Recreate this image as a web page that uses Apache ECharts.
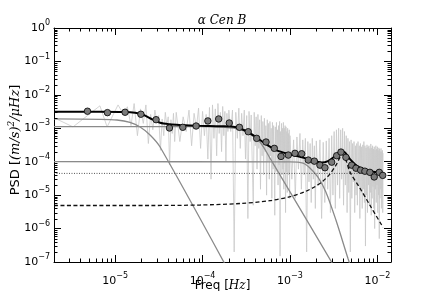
<!DOCTYPE html>
<html><head><meta charset="utf-8">
<script src="https://cdn.jsdelivr.net/npm/echarts@6/dist/echarts.min.js"></script>
<style>html,body{margin:0;padding:0;background:#fff}#c{width:436px;height:291px}</style>
</head><body><div id="c"></div>
<script>
// axis ranges
const X_MIN = 2.0e-6, X_MAX = 1.43e-2, Y_MIN = 1e-7, Y_MAX = 1;
const xTickExps = [-5, -4, -3, -2];
const yTickExps = [-7, -6, -5, -4, -3, -2, -1, 0];
const minorMultipliers = [2, 3, 4, 5, 6, 7, 8, 9];

// raw power spectrum: [frequency in microHz, PSD]
const noise = [
[2.05,2.0e-3],[3.3,1.1e-3],[6.7,4.7e-3],[8.1,1.1e-3],[10.8,5.0e-3],[12.5,2.6e-3],[13.8,4.4e-3],[15.2,1.2e-3],[16.5,5.5e-3],[18,6.0e-4],
[19.5,3.8e-3],[21,1.4e-3],[22.5,5.0e-3],[24,3.5e-4],[25.5,2.6e-3],[27,9.0e-4],[28.5,3.5e-3],[30,1.6e-3],[31.5,2.4e-3],[33,2.2e-4],
[34.5,1.9e-3],[36,6.0e-4],[37.5,3.0e-3],[39,1.2e-3],[40.5,2.2e-3],[42,8.0e-5],[43.5,1.8e-3],[45,7.0e-4],[46.5,2.8e-3],[48,4.0e-4],
[50,3.0e-3],[55,4e-4],[60,2.2e-3],[65,8e-4],[70,3.5e-3],[75,3e-4],[80,2.8e-3],[85,1.0e-3],[90,4.0e-3],[95,2.5e-4],
[100,3.2e-3],[105,6e-4],[110,2.6e-3],[115,1.2e-4],[120,4.2e-3],[125,3e-5],[130,5.0e-3],[135,5e-4],[140,3.8e-3],[145,1.5e-4],
[150,5.5e-3],[155,7e-4],[160,3.0e-3],[165,2e-4],[170,4.5e-3],[175,6e-4],[180,3.2e-3],[185,1.0e-4],[190,2.8e-3],[195,8e-4],
[200,3.5e-3],[210,8e-4],[220,3.5e-3],[230,2e-7],[240,3.0e-3],[250,5e-4],[260,4.0e-3],[270,2.5e-4],[280,2.8e-3],[290,6e-4],
[300,3.5e-3],[310,1.2e-4],[320,2.4e-3],[330,2e-6],[340,3.2e-3],[350,4e-4],[360,2.5e-3],[370,1.0e-4],[380,5e-6],[390,3.0e-3],
[400,3e-4],[410,2.2e-3],[420,6e-5],[430,2.6e-3],[440,2.5e-4],[450,1.8e-3],[460,1.5e-5],[470,2.4e-3],[480,1.5e-4],[490,1.6e-3],
[500,4e-5],[510,2.0e-3],[520,2e-4],[530,1.2e-3],[540,1e-5],[550,1.8e-3],[560,1e-4],[570,1.4e-3],[580,3e-5],[590,1.6e-3],
[600,1.5e-4],[610,1.0e-3],[620,8e-6],[630,1.5e-3],[640,6e-5],[650,1.2e-3],[660,1.2e-4],[670,2.5e-6],[680,1.1e-3],[690,5e-5],
[700,1.5e-3],[710,1.5e-4],[720,9e-4],[730,2e-5],[740,1.2e-3],[750,8e-5],[760,1.6e-3],[770,1.5e-7],[780,8e-4],[790,1.2e-4],
[800,1.4e-3],[810,4e-5],[820,1.0e-3],[830,6e-5],[840,1.5e-3],[850,1.5e-5],[860,1.0e-3],[870,9e-5],[880,1.2e-3],[890,3e-6],
[900,1.1e-3],[910,5e-5],[920,8e-4],[930,1.2e-5],[940,1.0e-3],[950,1e-4],[960,7e-4],[970,4e-5],[980,9e-4],[990,8e-6],
[1000,6e-4],[1050,3e-5],[1100,4.5e-4],[1150,8e-6],[1200,5.5e-4],[1250,6e-5],[1300,7e-4],[1350,1.5e-5],[1400,4.5e-4],[1450,4e-5],
[1500,5e-4],[1550,2e-7],[1600,4e-4],[1650,2.5e-5],[1700,3.5e-4],[1750,6e-6],[1800,5e-4],[1850,3e-5],[1900,3e-4],[1950,4e-6],
[2000,4.2e-4],[2100,2e-5],[2200,4.5e-4],[2300,2e-6],[2400,3.8e-4],[2500,6e-6],[2600,4.2e-4],[2700,1.5e-5],[2800,5e-4],[2900,3e-6],
[3000,6e-4],[3100,1e-5],[3200,8e-4],[3300,4e-6],[3400,9e-4],[3500,2e-5],[3600,1.0e-3],[3700,8e-6],[3800,9e-4],[3900,3e-5],
[4000,1.0e-3],[4100,5e-6],[4200,8e-4],[4300,2e-5],[4400,6e-4],[4500,3e-6],[4600,5e-4],[4700,1.2e-5],[4800,4e-4],[4900,2e-7],
[5000,4.5e-4],[5100,8e-6],[5200,3.5e-4],[5300,2.5e-5],[5400,4e-4],[5500,3e-6],[5600,3e-4],[5700,1e-5],[5800,3.5e-4],[5900,5e-6],
[6000,4e-4],[6100,2e-5],[6200,3e-4],[6300,2e-6],[6400,3.5e-4],[6500,1.2e-5],[6600,2.8e-4],[6700,4e-6],[6800,3.2e-4],[6900,1.5e-5],
[7000,4e-4],[7100,6e-6],[7200,3e-4],[7300,3e-7],[7400,2.6e-4],[7500,1e-5],[7600,3.2e-4],[7700,3e-6],[7800,2.8e-4],[7900,2e-5],
[8000,3e-4],[8100,5e-6],[8200,2.5e-4],[8300,1.2e-5],[8400,3.4e-4],[8500,2.5e-6],[8600,2.6e-4],[8700,8e-6],[8800,3e-4],[8900,1.8e-5],
[9000,2.4e-4],[9100,4e-6],[9200,2.8e-4],[9300,1e-6],[9400,2.2e-4],[9500,1.5e-5],[9600,3e-4],[9700,6e-6],[9800,2.4e-4],[9900,2e-5],
[10000,2.8e-4],[10100,3e-6],[10200,2.2e-4],[10300,1e-5],[10400,2.6e-4],[10500,5e-7],[10600,2.4e-4],[10700,8e-6],[10800,2e-4],[10900,1.5e-5],
[11000,2.5e-4],[11100,4e-6],[11200,2e-4],[11300,1.2e-5],[11400,2.2e-4],[11500,3e-6],[11600,1.8e-4]
];

// binned spectrum (circles)
const binF = [4.83e-6,8.17e-6,1.30e-5,1.97e-5,2.94e-5,4.18e-5,5.94e-5,8.44e-5,1.15e-4,1.53e-4,2.02e-4,2.64e-4,3.33e-4,4.16e-4,5.32e-4,6.62e-4,7.89e-4,9.57e-4,1.14e-3,1.36e-3,1.62e-3,1.90e-3,2.20e-3,2.51e-3,3.00e-3,3.42e-3,3.83e-3,4.36e-3,5.07e-3,5.68e-3,6.43e-3,7.19e-3,8.20e-3,9.19e-3,1.05e-2,1.15e-2];
const binP = [3.24e-3,2.94e-3,3.02e-3,2.63e-3,1.81e-3,1.02e-3,1.07e-3,1.17e-3,1.66e-3,1.90e-3,1.44e-3,1.07e-3,7.9e-4,5.0e-4,3.88e-4,2.51e-4,1.44e-4,1.58e-4,1.78e-4,1.73e-4,1.12e-4,1.04e-4,7.9e-5,6.6e-5,9.7e-5,1.51e-4,1.94e-4,1.35e-4,7.9e-5,6.4e-5,5.6e-5,5.2e-5,4.8e-5,3.5e-5,4.8e-5,3.9e-5];

// total fitted model (thick black)
const totF = [2.0e-6,6.74e-6,1.30e-5,1.69e-5,2.04e-5,2.51e-5,3.27e-5,4.25e-5,5.54e-5,9.36e-5,1.58e-4,2.35e-4,3.06e-4,3.98e-4,5.18e-4,6.74e-4,8.77e-4,1.14e-3,1.48e-3,1.93e-3,2.32e-3,2.72e-3,3.18e-3,3.54e-3,3.88e-3,4.26e-3,4.86e-3,5.98e-3,7.39e-3,9.36e-3,1.17e-2];
const totP = [3.15e-3,3.15e-3,3.08e-3,2.92e-3,2.63e-3,2.0e-3,1.47e-3,1.32e-3,1.26e-3,1.19e-3,1.15e-3,1.09e-3,8.6e-4,5.7e-4,3.5e-4,2.31e-4,1.82e-4,1.53e-4,1.28e-4,1.04e-4,9.4e-5,1.04e-4,1.38e-4,1.82e-4,2.08e-4,1.88e-4,1.2e-4,7.1e-5,5.6e-5,4.9e-5,4.6e-5];

// granulation / activity components (gray)
const h1F = [2.0e-6,6.74e-6,1.05e-5,1.48e-5,1.93e-5,2.51e-5,3.27e-5,2.06e-4];
const h1P = [1.9e-3,1.86e-3,1.77e-3,1.49e-3,1.09e-3,6.3e-4,2.75e-4,4.56e-8];
const h2F = [2.0e-6,9.36e-5,1.81e-4,2.68e-4,3.49e-4,4.54e-4,5.9e-4,3.72e-3];
const h2P = [1.12e-3,1.12e-3,1.06e-3,9.2e-4,6.7e-4,3.88e-4,1.28e-4,3.8e-8];
const h3F = [2.0e-6,1.0e-3,1.41e-3,1.70e-3,2.09e-3,2.58e-3,3.36e-3,4.6e-3,5.38e-3];
const h3P = [1.0e-4,9.9e-5,9.1e-5,6.4e-5,3.46e-5,1.23e-5,1.77e-6,1.29e-7,3.7e-8];

// white noise (dotted)
const wF = [2.0e-6, 1.17e-2];
const wP = [4.47e-5, 4.47e-5];

// p-mode hump (dashed)
const gF = [2.0e-6,2.51e-5,9.36e-5,2.68e-4,5.9e-4,1.0e-3,1.48e-3,1.93e-3,2.38e-3,2.86e-3,3.36e-3,3.72e-3,3.98e-3,4.36e-3,4.86e-3,6.31e-3,8.2e-3,1.16e-2];
const gP = [4.9e-6,4.9e-6,5.07e-6,5.62e-6,6.82e-6,8.99e-6,1.27e-5,1.79e-5,2.62e-5,4.25e-5,7.9e-5,1.33e-4,1.64e-4,1.12e-4,4.89e-5,1.62e-5,5.0e-6,1.09e-6];

function pairs(f, p) { return f.map((v, i) => [v, p[i]]); }
function supLabel(exps) {
  return function (v) {
    const l = Math.log10(v), e = Math.round(l);
    if (Math.abs(l - e) > 1e-6 || exps.indexOf(e) < 0) return '';
    return '{b|10}{s|' + (e < 0 ? '\u2212' + (-e) : e) + '}';
  };
}
const labelRich = {
  b: { fontFamily: 'DejaVu Sans', fontSize: 11, color: '#000', lineHeight: 18 },
  s: { fontFamily: 'DejaVu Sans', fontSize: 8, color: '#000', lineHeight: 7, verticalAlign: 'top' }
};
const xNameRich = {
  a: { fontFamily: 'DejaVu Sans', fontSize: 12, color: '#000', lineHeight: 18 },
  i: { fontFamily: 'DejaVu Serif', fontStyle: 'italic', fontSize: 12, color: '#000', lineHeight: 18 }
};
const yNameRich = {
  a: { fontFamily: 'DejaVu Sans', fontSize: 13, color: '#000', lineHeight: 18 },
  i: { fontFamily: 'DejaVu Serif', fontStyle: 'italic', fontSize: 13, color: '#000', lineHeight: 18 },
  s: { fontFamily: 'DejaVu Serif', fontStyle: 'italic', fontSize: 9, color: '#000', lineHeight: 7, verticalAlign: 'top' }
};

const xMinor = [], yMinor = [];
for (let k = -6; k <= -2; k++) minorMultipliers.forEach(m => { const v = m * Math.pow(10, k); if (v > X_MIN * 1.0001 && v < X_MAX) xMinor.push([v, Y_MIN]); });
for (let k = -7; k <= -1; k++) minorMultipliers.forEach(m => { yMinor.push([X_MIN, m * Math.pow(10, k)]); });

function axisBase(extra) {
  return Object.assign({
    type: 'log', logBase: 10,
    axisLine: { show: true, onZero: false, lineStyle: { color: '#000', width: 1 } },
    axisTick: { show: true, inside: true, length: 7, lineStyle: { color: '#000', width: 1 } },
    minorTick: { show: false }, splitLine: { show: false }, minorSplitLine: { show: false }
  }, extra);
}

const chart = echarts.init(document.getElementById('c'), null, { renderer: 'canvas' });
chart.setOption({
  animation: false,
  backgroundColor: '#fff',
  title: { text: '\u03b1 Cen B', left: 222, top: 15, padding: 0, textAlign: 'center',
    textStyle: { fontFamily: 'DejaVu Serif', fontStyle: 'italic', fontWeight: 'normal', fontSize: 12, color: '#000' } },
  grid: { left: 54, right: 45, top: 28, bottom: 29, containLabel: false, outerBoundsMode: 'none' },
  xAxis: [
    axisBase({ min: X_MIN, max: X_MAX, position: 'bottom',
      axisLabel: { formatter: supLabel(xTickExps), rich: labelRich, margin: 10, showMinLabel: false, showMaxLabel: false },
      name: '{a|Freq [}{i|Hz}{a|]}', nameLocation: 'middle', nameGap: 15, nameMoveOverlap: false, nameTextStyle: { rich: xNameRich } }),
    axisBase({ min: X_MIN, max: X_MAX, position: 'top', axisLabel: { show: false } })
  ],
  yAxis: [
    axisBase({ min: Y_MIN, max: Y_MAX, position: 'left',
      axisLabel: { formatter: supLabel(yTickExps), rich: labelRich, margin: 4 },
      name: '{a|PSD [}{i|(m/s)}{s|2}{i|/\u03bcHz}{a|]}', nameLocation: 'middle', nameGap: 29, nameMoveOverlap: false,
      nameTextStyle: { rich: yNameRich, padding: [0, 0, 0, 10] } }),
    axisBase({ min: Y_MIN, max: Y_MAX, position: 'right', axisLabel: { show: false } })
  ],
  series: [
    { type: 'line', data: noise.map(d => [d[0] * 1e-6, d[1]]), symbol: 'none', silent: true, clip: true,
      lineStyle: { color: '#c9c9c9', width: 0.8 }, z: 1 },
    { type: 'line', data: pairs(h1F, h1P), symbol: 'none', smooth: 0.3, silent: true, clip: true, lineStyle: { color: '#8a8a8a', width: 1.3 }, z: 2 },
    { type: 'line', data: pairs(h2F, h2P), symbol: 'none', smooth: 0.3, silent: true, clip: true, lineStyle: { color: '#8a8a8a', width: 1.3 }, z: 2 },
    { type: 'line', data: pairs(h3F, h3P), symbol: 'none', smooth: 0.3, silent: true, clip: true, lineStyle: { color: '#8a8a8a', width: 1.3 }, z: 2 },
    { type: 'line', data: pairs(wF, wP), symbol: 'none', silent: true, clip: true, lineStyle: { color: '#555', width: 1, type: [1, 1.5] }, z: 3 },
    { type: 'line', data: pairs(gF, gP), symbol: 'none', smooth: 0.3, silent: true, clip: true, lineStyle: { color: '#111', width: 1.3, type: [4, 2.5] }, z: 3 },
    { type: 'line', data: pairs(totF, totP), symbol: 'none', smooth: 0.3, silent: true, clip: true, lineStyle: { color: '#000', width: 2 }, z: 4 },
    { type: 'scatter', data: pairs(binF, binP), symbol: 'circle', symbolSize: 6.5, silent: true,
      itemStyle: { color: '#7a7a7a', borderColor: '#000', borderWidth: 0.8, opacity: 1 }, z: 5 },
    { type: 'custom', data: xMinor, clip: false, silent: true, z: 6,
      renderItem: function (params, api) {
        const b = api.coord([api.value(0), Y_MIN]), t = api.coord([api.value(0), Y_MAX]);
        const x = Math.round(b[0]) + 0.5;
        return { type: 'group', children: [
          { type: 'line', shape: { x1: x, y1: b[1], x2: x, y2: b[1] - 3.5 }, style: { stroke: '#000', lineWidth: 1 } },
          { type: 'line', shape: { x1: x, y1: t[1], x2: x, y2: t[1] + 3.5 }, style: { stroke: '#000', lineWidth: 1 } }
        ] };
      } },
    { type: 'custom', data: yMinor, clip: false, silent: true, z: 6,
      renderItem: function (params, api) {
        const l = api.coord([X_MIN, api.value(1)]), r = api.coord([X_MAX, api.value(1)]);
        const y = Math.round(l[1]) + 0.5;
        return { type: 'group', children: [
          { type: 'line', shape: { x1: l[0], y1: y, x2: l[0] + 3.5, y2: y }, style: { stroke: '#000', lineWidth: 1 } },
          { type: 'line', shape: { x1: r[0], y1: y, x2: r[0] - 3.5, y2: y }, style: { stroke: '#000', lineWidth: 1 } }
        ] };
      } }
  ]
});
</script>
</body></html>
